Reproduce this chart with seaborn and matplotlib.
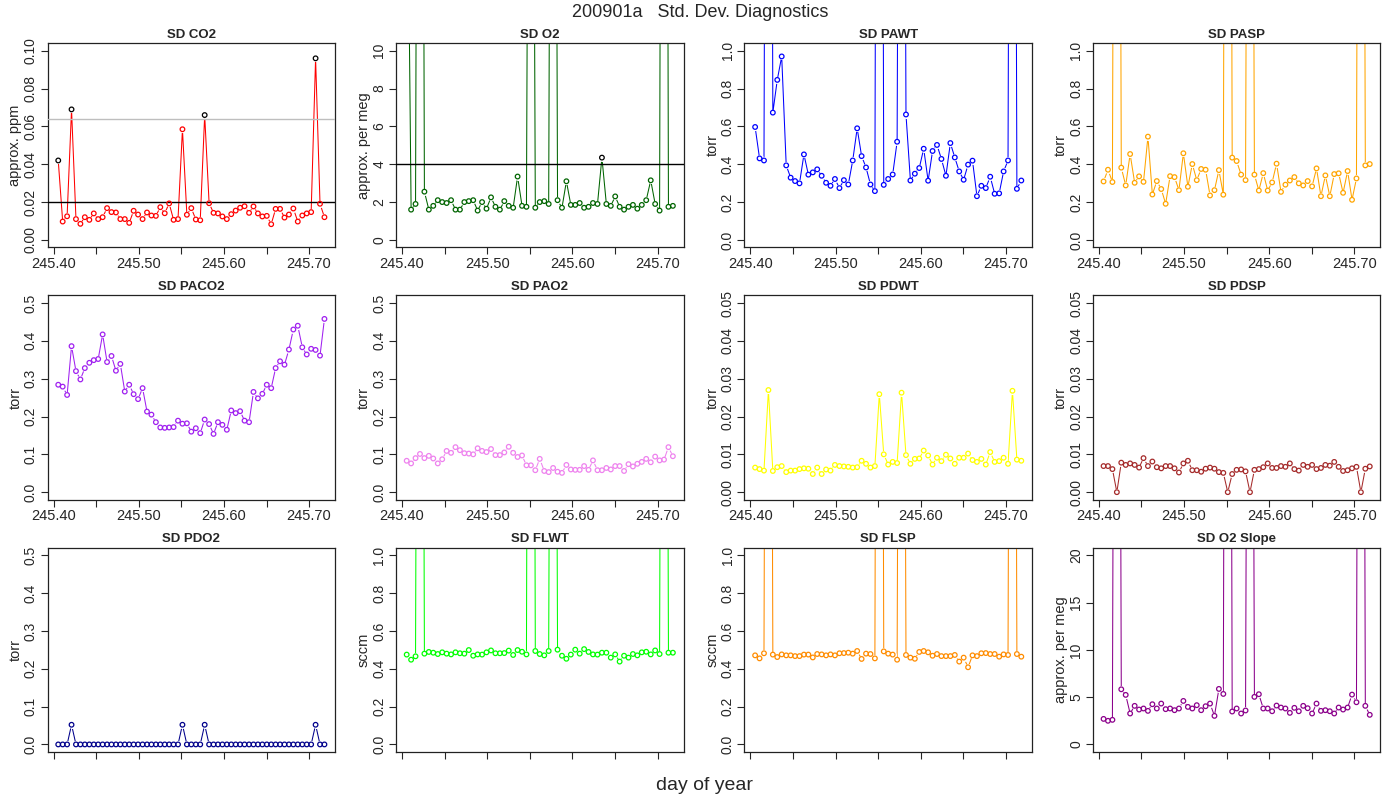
import matplotlib
matplotlib.use('Agg')
import matplotlib.pyplot as plt
import seaborn as sns
import numpy as np

# time stamps (day of year), one every 7.5 minutes
day = [245.4055, 245.4107, 245.4159, 245.4211, 245.4263, 245.4315, 245.4367, 245.4420,
       245.4472, 245.4524, 245.4576, 245.4628, 245.4680, 245.4732, 245.4784, 245.4836,
       245.4888, 245.4940, 245.4992, 245.5045, 245.5097, 245.5149, 245.5201, 245.5253,
       245.5305, 245.5357, 245.5409, 245.5461, 245.5513, 245.5565, 245.5617, 245.5670,
       245.5722, 245.5774, 245.5826, 245.5878, 245.5930, 245.5982, 245.6034, 245.6086,
       245.6138, 245.6190, 245.6242, 245.6295, 245.6347, 245.6399, 245.6451, 245.6503,
       245.6555, 245.6607, 245.6659, 245.6711, 245.6763, 245.6815, 245.6867, 245.6920,
       245.6972, 245.7024, 245.7076, 245.7128, 245.7180]

sd_co2 = [0.042, 0.0097, 0.0125, 0.069, 0.011, 0.0085, 0.012, 0.0106, 0.014, 0.011,
          0.012, 0.0168, 0.0147, 0.0145, 0.011, 0.011, 0.009, 0.0154, 0.0134, 0.011,
          0.0145, 0.0129, 0.0127, 0.0173, 0.0141, 0.0193, 0.0106, 0.011, 0.0585, 0.0133,
          0.0168, 0.0108, 0.0104, 0.066, 0.0194, 0.0143, 0.014, 0.0124, 0.011, 0.0136,
          0.0155, 0.017, 0.0178, 0.0143, 0.0177, 0.014, 0.0124, 0.0127, 0.0083, 0.0164,
          0.0164, 0.0118, 0.0134, 0.0166, 0.0097, 0.0129, 0.014, 0.0147, 0.096, 0.0191,
          0.012]
co2_flag = [0, 3, 33, 58]

# big values are off the top of the plot
sd_o2 = [25.0, 1.6, 1.9, 80.0, 2.55, 1.6, 1.8, 2.1, 2.0, 1.95,
         2.1, 1.6, 1.6, 2.0, 2.05, 2.1, 1.55, 2.0, 1.65, 2.25,
         1.75, 1.6, 2.05, 1.8, 1.7, 3.35, 1.8, 1.75, 60.0, 1.7,
         2.0, 2.05, 1.9, 70.0, 2.1, 1.7, 3.1, 1.85, 1.85, 1.95,
         1.7, 1.75, 1.95, 1.9, 4.35, 1.9, 1.8, 2.3, 1.75, 1.6,
         1.75, 1.85, 1.65, 1.85, 2.1, 3.15, 1.9, 1.55, 90.0, 1.75,
         1.8]
o2_flag = [44]

sd_pawt = [0.597, 0.431, 0.42, 8.0, 0.673, 0.846, 0.97, 0.394, 0.329, 0.311,
           0.299, 0.452, 0.345, 0.357, 0.373, 0.339, 0.302, 0.286, 0.322, 0.274,
           0.316, 0.293, 0.42, 0.59, 0.443, 0.383, 0.293, 0.258, 9.0, 0.291,
           0.322, 0.346, 0.519, 7.0, 0.663, 0.314, 0.35, 0.38, 0.482, 0.313,
           0.47, 0.502, 0.428, 0.339, 0.512, 0.436, 0.362, 0.318, 0.398, 0.419,
           0.231, 0.286, 0.274, 0.334, 0.244, 0.246, 0.362, 0.42, 8.0, 0.27,
           0.314]

sd_pasp = [0.309, 0.371, 0.306, 8.0, 0.382, 0.288, 0.454, 0.302, 0.336, 0.307,
           0.546, 0.24, 0.311, 0.269, 0.191, 0.337, 0.332, 0.263, 0.458, 0.281,
           0.401, 0.316, 0.375, 0.371, 0.235, 0.263, 0.369, 0.239, 9.0, 0.435,
           0.417, 0.345, 0.316, 7.0, 0.345, 0.261, 0.353, 0.261, 0.304, 0.403,
           0.254, 0.292, 0.314, 0.332, 0.299, 0.288, 0.311, 0.283, 0.378, 0.231,
           0.341, 0.231, 0.348, 0.352, 0.249, 0.364, 0.212, 0.325, 8.0, 0.394,
           0.401]

sd_paco2 = [0.284, 0.279, 0.257, 0.386, 0.32, 0.298, 0.328, 0.342, 0.349, 0.352,
            0.417, 0.344, 0.36, 0.321, 0.339, 0.266, 0.284, 0.259, 0.246, 0.275,
            0.213, 0.205, 0.185, 0.171, 0.17, 0.171, 0.172, 0.189, 0.181, 0.182,
            0.16, 0.169, 0.156, 0.192, 0.18, 0.154, 0.185, 0.178, 0.165, 0.216,
            0.209, 0.214, 0.189, 0.185, 0.265, 0.248, 0.26, 0.284, 0.275, 0.328,
            0.346, 0.337, 0.377, 0.43, 0.44, 0.383, 0.364, 0.379, 0.376, 0.361,
            0.458]

sd_pao2 = [0.083, 0.076, 0.09, 0.101, 0.09, 0.096, 0.089, 0.076, 0.087, 0.109,
           0.104, 0.119, 0.111, 0.103, 0.102, 0.1, 0.116, 0.109, 0.106, 0.114,
           0.098, 0.098, 0.105, 0.12, 0.104, 0.093, 0.097, 0.071, 0.071, 0.058,
           0.088, 0.056, 0.053, 0.064, 0.054, 0.051, 0.072, 0.06, 0.059, 0.059,
           0.069, 0.059, 0.084, 0.058, 0.058, 0.064, 0.06, 0.069, 0.069, 0.056,
           0.074, 0.068, 0.075, 0.08, 0.088, 0.079, 0.094, 0.084, 0.086, 0.119,
           0.095]

sd_pdwt = [0.0065, 0.0061, 0.0057, 0.027, 0.0056, 0.0066, 0.0069, 0.0053, 0.0057, 0.0057,
           0.0061, 0.0063, 0.0062, 0.0048, 0.0065, 0.0048, 0.006, 0.0057, 0.0072, 0.0069,
           0.0068, 0.0067, 0.0065, 0.0066, 0.0083, 0.0075, 0.0065, 0.0069, 0.0259, 0.01,
           0.0073, 0.008, 0.0077, 0.0263, 0.0098, 0.0075, 0.0088, 0.0089, 0.011, 0.0097,
           0.0073, 0.0091, 0.0082, 0.0099, 0.0089, 0.0075, 0.0091, 0.0091, 0.0102, 0.0085,
           0.008, 0.0088, 0.0073, 0.0106, 0.008, 0.0082, 0.0091, 0.0075, 0.0268, 0.0086,
           0.0083]

sd_pdsp = [0.0069, 0.0069, 0.0061, 0.0, 0.0078, 0.0072, 0.0076, 0.0072, 0.0065, 0.009,
           0.0069, 0.0081, 0.0066, 0.0063, 0.0069, 0.0069, 0.0063, 0.0052, 0.0076, 0.0083,
           0.0058, 0.0058, 0.0054, 0.0062, 0.0065, 0.0062, 0.0053, 0.0051, 0.0, 0.0048,
           0.0059, 0.006, 0.0055, 0.0, 0.0059, 0.0061, 0.0066, 0.0076, 0.0064, 0.0064,
           0.0069, 0.0067, 0.0076, 0.0061, 0.0057, 0.0072, 0.0067, 0.0072, 0.0061, 0.0064,
           0.0072, 0.007, 0.008, 0.0067, 0.0056, 0.0058, 0.0063, 0.0067, 0.0, 0.0062,
           0.0068]

sd_pdo2 = [0.0, 0.0, 0.0, 0.052, 0.0, 0.0, 0.0, 0.0, 0.0, 0.0,
           0.0, 0.0, 0.0, 0.0, 0.0, 0.0, 0.0, 0.0, 0.0, 0.0,
           0.0, 0.0, 0.0, 0.0, 0.0, 0.0, 0.0, 0.0, 0.052, 0.0,
           0.0, 0.0, 0.0, 0.052, 0.0, 0.0, 0.0, 0.0, 0.0, 0.0,
           0.0, 0.0, 0.0, 0.0, 0.0, 0.0, 0.0, 0.0, 0.0, 0.0,
           0.0, 0.0, 0.0, 0.0, 0.0, 0.0, 0.0, 0.0, 0.052, 0.0,
           0.0]

sd_flwt = [0.475, 0.448, 0.466, 8.0, 0.48, 0.489, 0.485, 0.478, 0.487, 0.48,
           0.476, 0.487, 0.482, 0.48, 0.499, 0.469, 0.476, 0.475, 0.487, 0.497,
           0.482, 0.482, 0.483, 0.496, 0.473, 0.499, 0.49, 0.476, 9.0, 0.494,
           0.478, 0.471, 0.494, 7.0, 0.501, 0.469, 0.453, 0.475, 0.501, 0.48,
           0.504, 0.489, 0.476, 0.475, 0.485, 0.485, 0.459, 0.476, 0.438, 0.469,
           0.459, 0.478, 0.471, 0.487, 0.49, 0.476, 0.497, 0.478, 8.0, 0.485,
           0.485]

sd_flsp = [0.471, 0.455, 0.482, 8.0, 0.475, 0.462, 0.476, 0.471, 0.471, 0.467,
           0.467, 0.475, 0.475, 0.46, 0.478, 0.476, 0.471, 0.476, 0.471, 0.482,
           0.483, 0.485, 0.48, 0.494, 0.452, 0.48, 0.478, 0.455, 9.0, 0.492,
           0.48, 0.475, 0.448, 7.0, 0.473, 0.459, 0.453, 0.489, 0.494, 0.487,
           0.469, 0.478, 0.467, 0.467, 0.467, 0.473, 0.438, 0.459, 0.408, 0.471,
           0.467, 0.482, 0.483, 0.478, 0.478, 0.464, 0.476, 0.473, 8.0, 0.478,
           0.464]

sd_o2slope = [2.7, 2.5, 2.6, 160.0, 5.83, 5.24, 3.27, 4.08, 3.69, 3.8,
              3.55, 4.25, 3.8, 4.32, 3.73, 3.8, 3.62, 3.8, 4.6, 3.97,
              3.8, 4.15, 3.62, 4.04, 4.32, 3.02, 5.87, 5.34, 180.0, 3.48,
              3.8, 3.27, 3.59, 140.0, 5.03, 5.31, 3.8, 3.8, 3.51, 4.11,
              3.9, 3.8, 3.34, 3.87, 3.51, 4.08, 3.83, 3.27, 4.32, 3.55,
              3.62, 3.51, 3.27, 3.9, 3.69, 3.9, 5.27, 4.46, 170.0, 4.08,
              3.13]

# panel settings: title, data, colour, ylabel, ytop, ystep, format
panels = [
    ('SD CO2', sd_co2, 'red', 'approx. ppm', 0.10, 0.02, '%.2f'),
    ('SD O2', sd_o2, 'darkgreen', 'approx. per meg', 10, 2, '%d'),
    ('SD PAWT', sd_pawt, 'blue', 'torr', 1.0, 0.2, '%.1f'),
    ('SD PASP', sd_pasp, 'orange', 'torr', 1.0, 0.2, '%.1f'),
    ('SD PACO2', sd_paco2, '#A020F0', 'torr', 0.5, 0.1, '%.1f'),
    ('SD PAO2', sd_pao2, 'violet', 'torr', 0.5, 0.1, '%.1f'),
    ('SD PDWT', sd_pdwt, 'yellow', 'torr', 0.05, 0.01, '%.2f'),
    ('SD PDSP', sd_pdsp, 'brown', 'torr', 0.05, 0.01, '%.2f'),
    ('SD PDO2', sd_pdo2, 'darkblue', 'torr', 0.5, 0.1, '%.1f'),
    ('SD FLWT', sd_flwt, '#00FF00', 'sccm', 1.0, 0.2, '%.1f'),
    ('SD FLSP', sd_flsp, 'darkorange', 'sccm', 1.0, 0.2, '%.1f'),
    ('SD O2 Slope', sd_o2slope, 'darkmagenta', 'approx. per meg', 20, 5, '%d'),
]

sns.set_style('ticks')
plt.rcParams['font.family'] = ['Liberation Sans', 'DejaVu Sans']
plt.rcParams['axes.linewidth'] = 0.9
plt.rcParams['axes.edgecolor'] = '#222222'

fig, axes = plt.subplots(3, 4, figsize=(14, 8), dpi=100)
fig.subplots_adjust(left=0.034, right=0.986, top=0.946, bottom=0.06,
                    wspace=0.212, hspace=0.235)

xmin, xmax = day[0], day[-1]
xpad = (xmax - xmin) * 0.04

for k, (title, vals, col, ylab, ytop, ystep, fmt) in enumerate(panels):
    ax = axes.flat[k]
    vals = np.array(vals)
    sns.lineplot(x=day, y=vals, ax=ax, color=col, lw=0.75, sort=False, zorder=2)
    # white halo so the line has gaps round the points (like R type='b')
    ax.scatter(day, vals, s=26, color='white', lw=0, zorder=3)
    if k == 0:
        ax.axhline(0.02, color='black', lw=1, zorder=3.5)
        ax.axhline(0.064, color='#BEBEBE', lw=1, zorder=3.5)
    if k == 1:
        ax.axhline(4, color='black', lw=1, zorder=3.5)
    ec = [col] * len(day)
    if k == 0:
        for i in co2_flag:
            ec[i] = 'black'
    if k == 1:
        for i in o2_flag:
            ec[i] = 'black'
    sns.scatterplot(x=day, y=vals, ax=ax, marker='o', s=11, facecolor='none',
                    edgecolor=ec, linewidth=0.9, zorder=4, legend=False)

    ax.set_xlim(xmin - xpad, xmax + xpad)
    ax.set_ylim(-ytop * 0.04, ytop * 1.04)
    yt = np.arange(0, ytop + ystep / 2, ystep)
    ax.set_yticks(yt)
    ax.set_yticklabels([fmt % v for v in yt], rotation=90, va='center', fontsize=10)
    xt = [245.40, 245.45, 245.50, 245.55, 245.60, 245.65, 245.70]
    ax.set_xticks(xt)
    if k < 8:
        ax.set_xticklabels(['245.40', '', '245.50', '', '245.60', '', '245.70'], fontsize=10.5)
    else:
        ax.set_xticklabels([''] * len(xt))
    ax.tick_params(length=5, width=0.8, pad=2)
    ax.set_title(title, fontsize=9.5, fontweight='bold', pad=4)
    ax.set_ylabel(ylab, fontsize=10.5, labelpad=1)
    ax.set_xlabel('')
    for s in ax.spines.values():
        s.set_visible(True)

fig.suptitle('200901a   Std. Dev. Diagnostics', fontsize=13, y=0.995)
fig.text(0.503, 0.012, 'day of year', ha='center', fontsize=14)

plt.savefig('out.png', dpi=100)
